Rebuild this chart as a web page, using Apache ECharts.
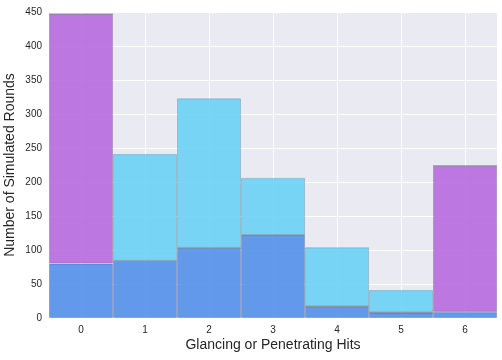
<!DOCTYPE html>
<html>
<head>
<meta charset="utf-8">
<script src="https://cdn.jsdelivr.net/npm/echarts@6/dist/echarts.min.js"></script>
<style>html,body{margin:0;padding:0;background:#fff}#c{width:502px;height:360px}</style>
</head>
<body>
<div id="c"></div>
<script>
var categories = ['0', '1', '2', '3', '4', '5', '6'];
var purpleValues = [447, 84, 103, 122, 17, 8, 224];
var cyanValues = [80, 241, 323, 206, 104, 41, 9];
var yTicks = [0, 50, 100, 150, 200, 250, 300, 350, 400, 450];

var overlap = purpleValues.map(function (v, i) { return Math.min(v, cyanValues[i]); });
var purpleExtra = purpleValues.map(function (v, i) { return Math.max(0, v - cyanValues[i]); });
var cyanExtra = cyanValues.map(function (v, i) { return Math.max(0, v - purpleValues[i]); });

var border = { borderColor: 'rgba(40,40,70,0.22)', borderWidth: 1 };
function style(c) { return Object.assign({ color: c, opacity: 0.88 }, border); }

var chart = echarts.init(document.getElementById('c'), null, { renderer: 'canvas' });
chart.setOption({
  animation: false,
  textStyle: { fontFamily: 'Liberation Sans, Arial, sans-serif' },
  grid: { left: 49, right: 5, top: 12, bottom: 42, show: true, backgroundColor: '#eaeaf2', borderWidth: 0, containLabel: false, outerBoundsMode: 'none' },
  xAxis: [
    {
      type: 'category', data: categories, boundaryGap: true,
      axisLine: { show: false }, axisTick: { show: false }, splitLine: { show: false },
      axisLabel: { color: '#262626', fontSize: 10, margin: 7 },
      name: 'Glancing or Penetrating Hits', nameLocation: 'middle', nameGap: 20, nameMoveOverlap: false,
      nameTextStyle: { color: '#262626', fontSize: 14 }
    },
    {
      type: 'value', min: 0, max: categories.length * 2, interval: 1, show: true, position: 'top',
      axisLine: { show: false }, axisTick: { show: false }, axisLabel: { show: false },
      splitLine: { show: true, lineStyle: { color: ['rgba(0,0,0,0)', '#ffffff'], width: 1 } }
    }
  ],
  yAxis: {
    type: 'value', min: yTicks[0], max: yTicks[yTicks.length - 1], interval: 50,
    axisLine: { show: false }, axisTick: { show: false },
    axisLabel: { color: '#262626', fontSize: 10, margin: 7 },
    splitLine: { show: true, lineStyle: { color: '#ffffff', width: 1 } },
    name: 'Number of Simulated Rounds', nameLocation: 'middle', nameGap: 32, nameMoveOverlap: false,
    nameTextStyle: { color: '#262626', fontSize: 14 }
  },
  series: [
    { type: 'bar', xAxisIndex: 0, stack: 'h', data: overlap, barCategoryGap: '0%', itemStyle: style('#4f8de9') },
    { type: 'bar', xAxisIndex: 0, stack: 'h', data: purpleExtra, barCategoryGap: '0%', itemStyle: style('#b566de') },
    { type: 'bar', xAxisIndex: 0, stack: 'h', data: cyanExtra, barCategoryGap: '0%', itemStyle: style('#66d0f5') }
  ]
});
</script>
</body>
</html>
